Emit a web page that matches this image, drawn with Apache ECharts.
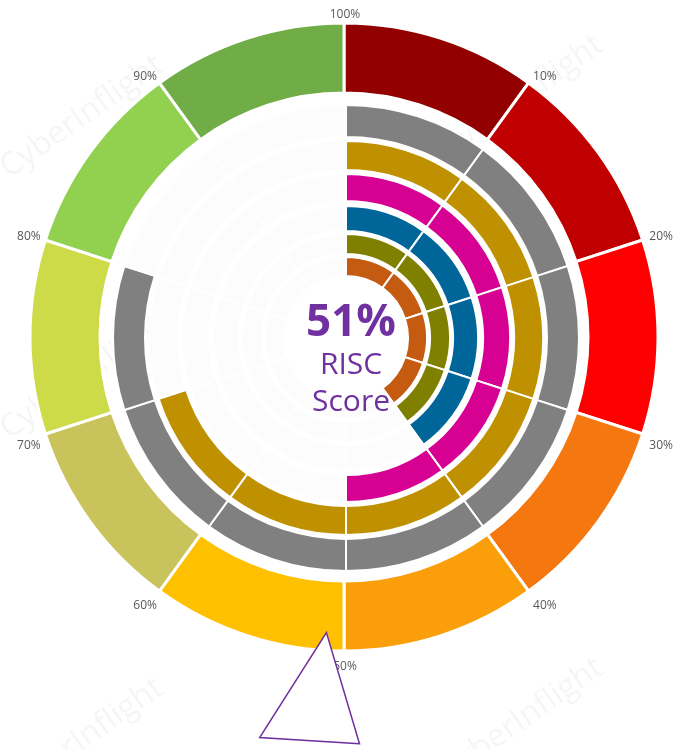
<!DOCTYPE html>
<html>
<head>
<meta charset="utf-8">
<title>RISC Score</title>
<script src="https://cdn.jsdelivr.net/npm/echarts@6/dist/echarts.min.js"></script>
<style>
  html, body { margin: 0; padding: 0; background: #fff; }
  #chart { width: 681px; height: 749px; }
</style>
</head>
<body>
<div id="chart"></div>
<script>
// overall score (centre text + pointer)
const riscScore = 51;

// inner rings, from the centre outwards, score in %
const ringScores = [40, 40, 40, 50, 70, 80];

// outer scale: ten bands
const bandSizes = [10, 10, 10, 10, 10, 10, 10, 10, 10, 10];

// scale labels, clockwise from the top
const tickValues = [0, 10, 20, 30, 40, 50, 60, 70, 80, 90];
const tickLabels = ['100%', '10%', '20%', '30%', '40%', '50%', '60%', '70%', '80%', '90%'];

// ---- layout / styles ----
const CX = 344, CY = 337;          // outer scale + pointer
const IX = 346, IY = 338;          // inner rings
const ringColors = ['#c55a11', '#808000', '#006699', '#d60093', '#bf9000', '#808080'];
const ringRadii = [[62, 81], [84, 104], [107, 132], [137, 164], [168, 197], [201, 233]];
const bandColors = ['#920000', '#c00000', '#ff0000', '#f5770f', '#fa9e0a',
                    '#ffc000', '#c9c35b', '#cedb48', '#92d050', '#70ad47'];
const emptyColor = '#fcfcfc';
const purple = '#7030a0';

const chart = echarts.init(document.getElementById('chart'));

const pieBase = {
  type: 'pie',
  startAngle: 90,
  clockwise: true,
  silent: true,
  animation: false,
  label: { show: false },
  labelLine: { show: false },
  emphasis: { disabled: true }
};

const series = [];

// outer coloured scale
series.push(Object.assign({}, pieBase, {
  center: [CX, CY],
  radius: [244, 314],
  itemStyle: { borderColor: '#fff', borderWidth: 3 },
  data: bandSizes.map((v, i) => ({ value: v, itemStyle: { color: bandColors[i] } }))
}));

// inner rings, split in 10% steps
ringScores.forEach((score, r) => {
  const data = [];
  for (let s = 10; s <= 100; s += 10) {
    data.push({ value: 10, itemStyle: { color: s <= score ? ringColors[r] : emptyColor } });
  }
  series.push(Object.assign({}, pieBase, {
    center: [IX, IY],
    radius: ringRadii[r],
    itemStyle: { borderColor: '#fff', borderWidth: 2 },
    data: data
  }));
});

// pointer + centre text
series.push({
  type: 'gauge',
  center: [CX, CY],
  radius: 314,
  startAngle: 90,
  endAngle: -270,
  min: 0,
  max: 100,
  z: 10,
  silent: true,
  animation: false,
  axisLine: { show: false },
  splitLine: { show: false },
  axisTick: { show: false },
  axisLabel: { show: false },
  anchor: { show: false },
  title: { show: false },
  pointer: {
    show: true,
    icon: 'path://M0,0L100,0L40,100Z',
    keepAspect: false,
    length: 109,
    width: 100,
    offsetCenter: [9, -296],
    itemStyle: { color: '#fff', borderColor: purple, borderWidth: 1.5 }
  },
  detail: {
    show: true,
    offsetCenter: [7, 23],
    valueAnimation: false,
    formatter: '{a|{value}%}\n{b|RISC}\n{b|Score}',
    rich: {
      a: { fontSize: 44, fontWeight: 'bold', color: purple, lineHeight: 48, fontFamily: 'Open Sans' },
      b: { fontSize: 30, fontWeight: 'normal', color: purple, lineHeight: 37, fontFamily: 'Open Sans' }
    }
  },
  data: [{ value: riscScore }]
});

// faint watermark
const wmarks = [[160, 62], [600, 42], [160, 685], [600, 665], [160, 323]];
const graphics = wmarks.map(p => ({
  type: 'text',
  x: p[0],
  y: p[1],
  rotation: 35 * Math.PI / 180,
  z: 0,
  silent: true,
  style: {
    text: 'CyberInflight',
    fill: 'rgba(0,0,0,0.04)',
    font: '32px "Open Sans"',
    align: 'right',
    verticalAlign: 'middle'
  }
}));

chart.setOption({
  backgroundColor: '#fff',
  animation: false,
  graphic: { elements: graphics },
  polar: { center: [345, 341], radius: 314 },
  angleAxis: {
    type: 'value',
    min: 0,
    max: 100,
    interval: 10,
    startAngle: 90,
    clockwise: true,
    z: 3,
    axisLine: { show: false },
    axisTick: { show: false },
    splitLine: { show: false },
    axisLabel: {
      margin: 6,
      color: '#595959',
      fontSize: 12,
      fontFamily: 'Open Sans',
      formatter: v => tickLabels[tickValues.indexOf(v)] || ''
    }
  },
  radiusAxis: { show: false },
  series: series
});
</script>
</body>
</html>
